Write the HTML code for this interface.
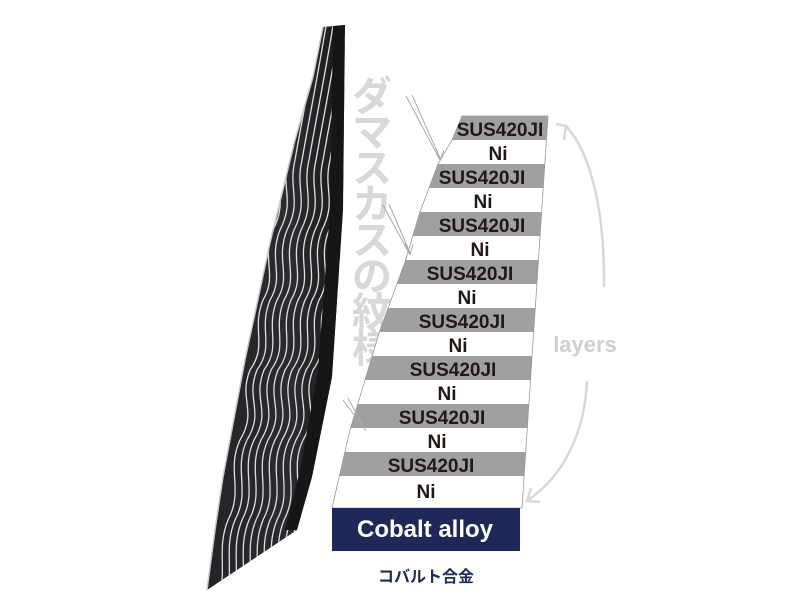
<!DOCTYPE html>
<html><head><meta charset="utf-8"><style>
html,body{margin:0;padding:0;background:#fff;width:800px;height:600px;overflow:hidden}
</style></head><body>
<svg width="800" height="600" viewBox="0 0 800 600" xmlns="http://www.w3.org/2000/svg">
<defs>
<clipPath id="blade"><path d="M323,27 L345,25 L343,210 L332,377 L312,477 L297,530 L207,590 L215,530 L223,477 L245,360 L270,243 L295,140 L313,77 Z"/></clipPath>
<clipPath id="stack"><polygon points="462,116 548,116 522,508 332,508 350,430 380,330 405,262 420,212 438,164 452,140"/></clipPath>
<linearGradient id="bg" x1="0" x2="1" y1="0" y2="0"><stop offset="0" stop-color="#222226"/><stop offset="0.6" stop-color="#2c2c30"/><stop offset="1" stop-color="#141416"/></linearGradient>
<path id="w" d="M330,20 C320,80 312,120 305,160 C298,190 312,200 297,230 C285,260 302,275 287,300 C275,330 292,345 274,370 C262,400 282,410 264,440 C250,470 268,490 252,520 C240,550 252,570 242,600" fill="none" stroke="#e0e0e0" stroke-width="1.3"/>
</defs>
<g clip-path="url(#blade)">
<rect x="190" y="20" width="170" height="580" fill="url(#bg)"/>
<use href="#w" transform="translate(-24,0)"/><use href="#w" transform="translate(-17,0)"/><use href="#w" transform="translate(-10,0)"/>
<use href="#w" transform="translate(-3,0)"/><use href="#w" transform="translate(4,0)"/><use href="#w" transform="translate(11,0)"/>
<use href="#w" transform="translate(18,0)"/><use href="#w" transform="translate(25,0)"/><use href="#w" transform="translate(32,0)"/>
<use href="#w" transform="translate(39,0)"/><use href="#w" transform="translate(46,0)"/>
<path d="M333,25 L345,25 L343,210 L332,377 L312,477 L297,530 L285,530 L300,470 L318,370 L330,210 Z" fill="#161618"/>
</g>
<path d="M323,27 L313,77 L295,140 L270,243 L245,360 L223,477 L215,530 L207,590" fill="none" stroke="#c8c8c8" stroke-width="1.5"/>
<g font-family="'Liberation Sans','Noto Sans CJK JP',sans-serif" font-weight="bold" font-size="40" fill="#d8d8d8" text-anchor="middle">
<text x="372" y="110">ダ</text><text x="372" y="146">マ</text><text x="372" y="182">ス</text><text x="372" y="218">カ</text><text x="372" y="254">ス</text><text x="372" y="290">の</text><text x="372" y="326">紋</text><text x="372" y="362">様</text>
</g>
<g clip-path="url(#stack)">
<rect x="320" y="116" width="240" height="392" fill="#fff"/>
<g fill="#a0a0a0">
<rect x="320" y="116" width="240" height="24"/><rect x="320" y="164" width="240" height="24"/><rect x="320" y="212" width="240" height="24"/><rect x="320" y="260" width="240" height="24"/><rect x="320" y="308" width="240" height="24"/><rect x="320" y="356" width="240" height="24"/><rect x="320" y="404" width="240" height="24"/><rect x="320" y="452" width="240" height="24"/>
</g></g>
<polygon points="462,116 548,116 522,508 332,508 350,430 380,330 405,262 420,212 438,164 452,140" fill="none" stroke="#999" stroke-width="0.8"/>
<g font-family="'Liberation Sans',sans-serif" font-weight="bold" font-size="19" fill="#231815" text-anchor="middle">
<text x="500" y="136">SUS420JI</text><text x="498" y="160">Ni</text>
<text x="482" y="184">SUS420JI</text><text x="483" y="208">Ni</text>
<text x="482" y="232">SUS420JI</text><text x="480" y="256">Ni</text>
<text x="470" y="280">SUS420JI</text><text x="467" y="304">Ni</text>
<text x="462" y="328">SUS420JI</text><text x="458" y="352">Ni</text>
<text x="453" y="376">SUS420JI</text><text x="447" y="400">Ni</text>
<text x="442" y="424">SUS420JI</text><text x="437" y="448">Ni</text>
<text x="431" y="472">SUS420JI</text><text x="426" y="498">Ni</text>
</g>
<rect x="332" y="508" width="188" height="43" fill="#1f2858"/>
<text x="425" y="537" font-family="'Liberation Sans',sans-serif" font-weight="bold" font-size="24" fill="#fff" text-anchor="middle">Cobalt alloy</text>
<text x="426" y="582" font-family="'Liberation Sans','Noto Sans CJK JP',sans-serif" font-weight="bold" font-size="16" fill="#1f2858" text-anchor="middle">コバルト合金</text>
<text x="585" y="352" font-family="'Liberation Sans',sans-serif" font-weight="bold" font-size="22" fill="#d0d0d0" text-anchor="middle">layers</text>
<g fill="none" stroke="#d8d8d8" stroke-width="2.5">
<path d="M565,125 C590,150 605,210 604,287"/><path d="M556,124 L566,126 L564,140"/>
<path d="M587,381 C585,430 565,475 528,500"/><path d="M531,488 L527,501 L540,502"/>
</g>
<g fill="none" stroke="#aaa" stroke-width="1">
<path d="M406,96 L440,160 M412,95 L440,158 M440,160 L436,148 M440,160 L444,150"/>
<path d="M383,205 L410,255 M389,204 L410,253 M410,255 L405,243 M410,255 L413,244"/>
<path d="M343,400 L366,431 M348,398 L364,428"/>
</g>
</svg>
</body></html>
